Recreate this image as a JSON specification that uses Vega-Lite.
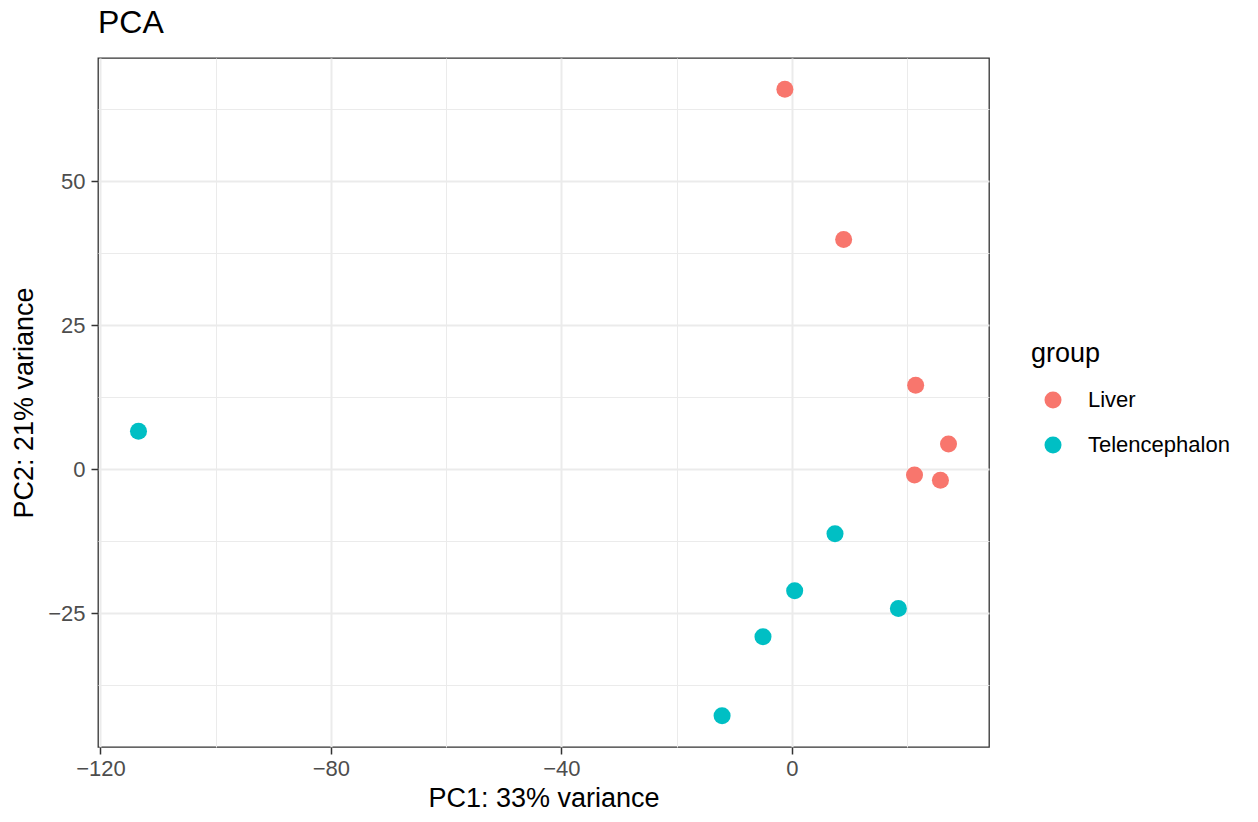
{
  "$schema": "https://vega.github.io/schema/vega-lite/v6.json",
  "width": 891,
  "height": 689,
  "autosize": "none",
  "padding": {"left": 98, "top": 58, "right": 269, "bottom": 75},
  "background": "white",
  "title": {
    "text": "PCA",
    "anchor": "start",
    "frame": "group",
    "fontSize": 32,
    "fontWeight": "normal",
    "color": "black",
    "offset": 18
  },
  "data": {
    "values": [
      {"pc1": -1.2, "pc2": 66.0, "group": "Liver"},
      {"pc1": 9.0, "pc2": 39.9, "group": "Liver"},
      {"pc1": 21.5, "pc2": 14.6, "group": "Liver"},
      {"pc1": 27.2, "pc2": 4.4, "group": "Liver"},
      {"pc1": 21.3, "pc2": -1.0, "group": "Liver"},
      {"pc1": 25.8, "pc2": -1.9, "group": "Liver"},
      {"pc1": -113.4, "pc2": 6.6, "group": "Telencephalon"},
      {"pc1": 7.5, "pc2": -11.2, "group": "Telencephalon"},
      {"pc1": 0.5, "pc2": -21.1, "group": "Telencephalon"},
      {"pc1": 18.5, "pc2": -24.2, "group": "Telencephalon"},
      {"pc1": -5.0, "pc2": -29.1, "group": "Telencephalon"},
      {"pc1": -12.1, "pc2": -42.8, "group": "Telencephalon"}
    ]
  },
  "mark": {"type": "circle", "size": 290, "opacity": 1},
  "encoding": {
    "x": {
      "field": "pc1",
      "type": "quantitative",
      "scale": {"domain": [-120.43, 34.23], "nice": false, "zero": false},
      "axis": {
        "title": "PC1: 33% variance",
        "values": [-120, -100, -80, -60, -40, -20, 0, 20],
        "labelExpr": "datum.value % 40 === 0 ? datum.label : ''",
        "labelOverlap": false,
        "labelPadding": 4,
        "titlePadding": 6,
        "tickSize": 7,
        "tickOpacity": {"condition": {"test": "datum.value % 40 === 0", "value": 1}, "value": 0},
        "gridWidth": {"condition": {"test": "datum.value % 40 === 0", "value": 2}, "value": 1}
      }
    },
    "y": {
      "field": "pc2",
      "type": "quantitative",
      "scale": {"domain": [-48.24, 71.44], "nice": false, "zero": false},
      "axis": {
        "title": "PC2: 21% variance",
        "values": [-37.5, -25, -12.5, 0, 12.5, 25, 37.5, 50, 62.5],
        "labelExpr": "datum.value % 25 === 0 ? datum.label : ''",
        "labelOverlap": false,
        "labelPadding": 6,
        "titlePadding": 9,
        "tickSize": 7,
        "tickOpacity": {"condition": {"test": "datum.value % 25 === 0", "value": 1}, "value": 0},
        "gridWidth": {"condition": {"test": "datum.value % 25 === 0", "value": 2}, "value": 1}
      }
    },
    "color": {
      "field": "group",
      "type": "nominal",
      "scale": {"domain": ["Liver", "Telencephalon"], "range": ["#F8766D", "#00BFC4"]},
      "legend": {
        "title": "group",
        "orient": "none",
        "legendX": 933,
        "legendY": 283,
        "symbolType": "circle",
        "symbolSize": 290,
        "symbolOffset": 11,
        "symbolStrokeWidth": 0,
        "symbolOpacity": 1,
        "labelOffset": 24,
        "rowPadding": 23,
        "titlePadding": 21,
        "padding": 0
      }
    }
  },
  "config": {
    "font": "Liberation Sans",
    "view": {"stroke": "#333333", "strokeWidth": 1.3},
    "axis": {
      "domain": false,
      "grid": true,
      "gridColor": "#EBEBEB",
      "tickColor": "#333333",
      "tickWidth": 1.5,
      "labelFontSize": 22,
      "labelColor": "#4D4D4D",
      "labelFont": "Liberation Sans",
      "titleFontSize": 27,
      "titleFontWeight": "normal",
      "titleColor": "black",
      "titleFont": "Liberation Sans"
    },
    "legend": {
      "titleFontSize": 27,
      "titleFontWeight": "normal",
      "titleColor": "black",
      "labelFontSize": 22,
      "labelColor": "black",
      "titleFont": "Liberation Sans",
      "labelFont": "Liberation Sans"
    }
  }
}
